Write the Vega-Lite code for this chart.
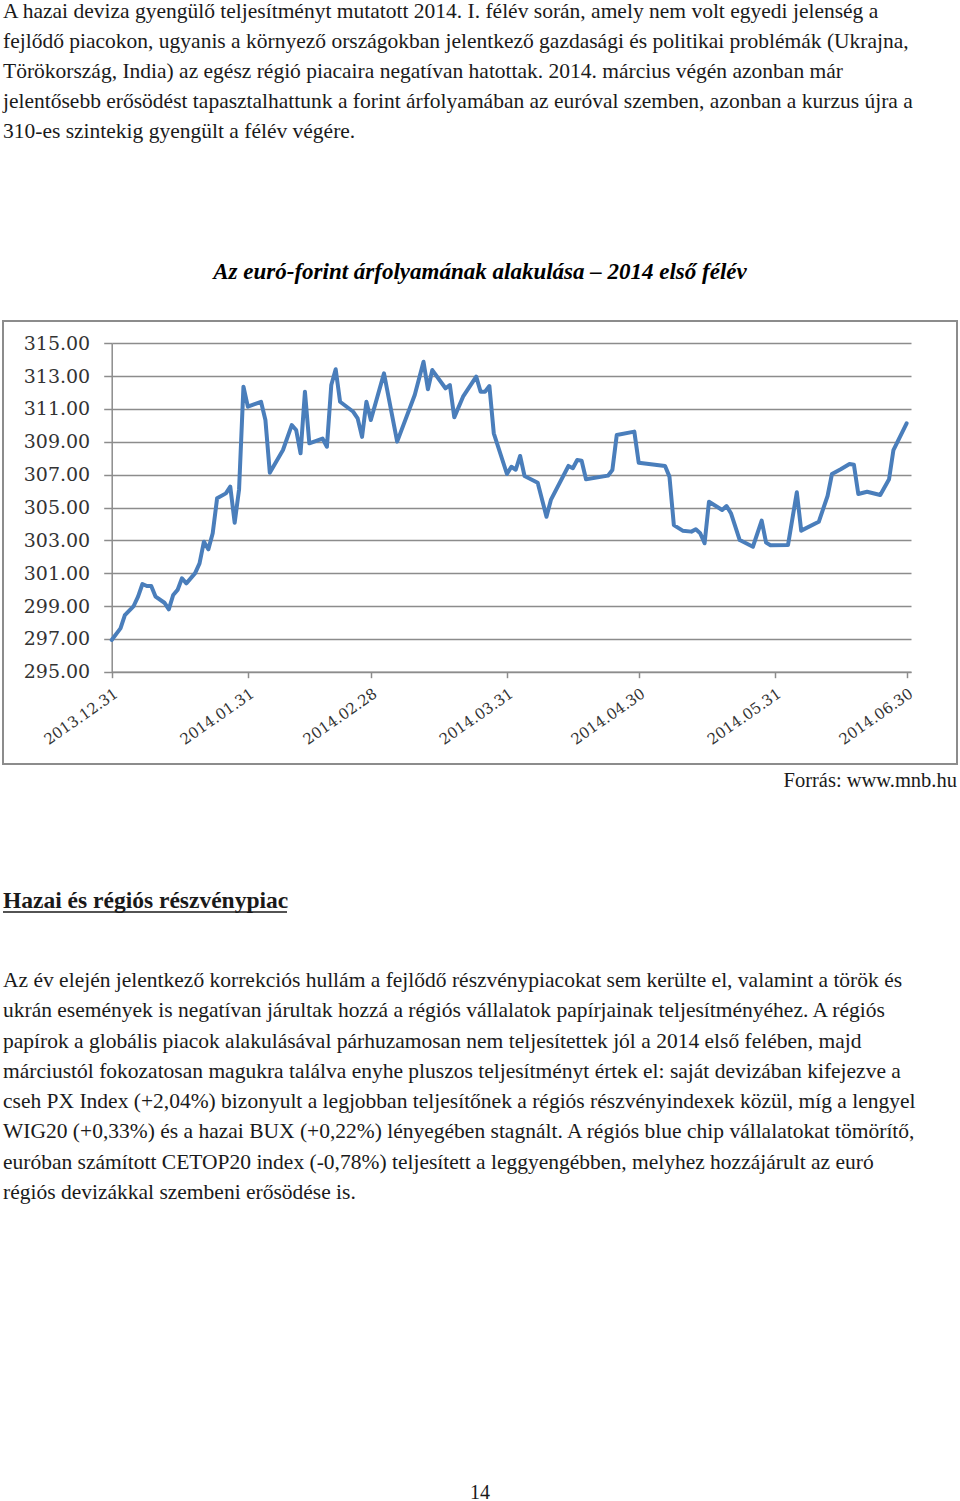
{
  "$schema": "https://vega.github.io/schema/vega-lite/v6.json",
  "padding": 0,
  "background": "white",
  "spacing": 0,
  "bounds": "flush",
  "center": true,
  "config": {"view": {"stroke": null}},
  "vconcat": [
    {
      "width": 960,
      "height": 321,
      "data": {"values": [
        {"line": 1, "text": "A hazai deviza gyengülő teljesítményt mutatott 2014. I. félév során, amely nem volt egyedi jelenség a"},
        {"line": 2, "text": "fejlődő piacokon, ugyanis a környező országokban jelentkező gazdasági és politikai problémák (Ukrajna,"},
        {"line": 3, "text": "Törökország, India) az egész régió piacaira negatívan hatottak. 2014. március végén azonban már"},
        {"line": 4, "text": "jelentősebb erősödést tapasztalhattunk a forint árfolyamában az euróval szemben, azonban a kurzus újra a"},
        {"line": 5, "text": "310-es szintekig gyengült a félév végére."}
      ]},
      "mark": {"type": "text", "align": "left", "baseline": "middle", "font": "Liberation Serif", "fontSize": 21.5, "color": "#1a1a1a"},
      "encoding": {
        "x": {"datum": 0, "type": "quantitative", "scale": {"domain": [0, 1], "range": [3, 957]}, "axis": null},
        "y": {"field": "line", "type": "quantitative", "scale": {"domain": [1, 5], "range": [12, 132]}, "axis": null},
        "text": {"field": "text"}
      }
    },
    {
      "width": 954,
      "height": 443,
      "view": {"stroke": "#8c8c8c", "strokeWidth": 2},
      "title": {"text": "Az euró-forint árfolyamának alakulása – 2014 első félév", "font": "Liberation Serif", "fontSize": 23, "fontWeight": "bold", "fontStyle": "italic", "color": "#000000", "offset": 37, "anchor": "middle"},
      "data": {"values": [
        {"date": "2013-12-31", "rate": 296.93},
        {"date": "2014-01-02", "rate": 297.64},
        {"date": "2014-01-03", "rate": 298.45},
        {"date": "2014-01-05", "rate": 299.0},
        {"date": "2014-01-06", "rate": 299.57},
        {"date": "2014-01-07", "rate": 300.34},
        {"date": "2014-01-08", "rate": 300.22},
        {"date": "2014-01-09", "rate": 300.22},
        {"date": "2014-01-10", "rate": 299.57},
        {"date": "2014-01-12", "rate": 299.2},
        {"date": "2014-01-13", "rate": 298.8},
        {"date": "2014-01-14", "rate": 299.67},
        {"date": "2014-01-15", "rate": 299.98},
        {"date": "2014-01-16", "rate": 300.69},
        {"date": "2014-01-17", "rate": 300.38},
        {"date": "2014-01-19", "rate": 301.0},
        {"date": "2014-01-20", "rate": 301.6},
        {"date": "2014-01-21", "rate": 302.92},
        {"date": "2014-01-22", "rate": 302.45},
        {"date": "2014-01-23", "rate": 303.43},
        {"date": "2014-01-24", "rate": 305.56},
        {"date": "2014-01-26", "rate": 305.86},
        {"date": "2014-01-27", "rate": 306.27},
        {"date": "2014-01-28", "rate": 304.07},
        {"date": "2014-01-29", "rate": 306.1},
        {"date": "2014-01-30", "rate": 312.36},
        {"date": "2014-01-31", "rate": 311.14},
        {"date": "2014-02-03", "rate": 311.44},
        {"date": "2014-02-04", "rate": 310.33},
        {"date": "2014-02-05", "rate": 307.12},
        {"date": "2014-02-08", "rate": 308.5},
        {"date": "2014-02-10", "rate": 310.02},
        {"date": "2014-02-11", "rate": 309.72},
        {"date": "2014-02-12", "rate": 308.3},
        {"date": "2014-02-13", "rate": 312.05},
        {"date": "2014-02-14", "rate": 308.91},
        {"date": "2014-02-17", "rate": 309.2},
        {"date": "2014-02-18", "rate": 308.7},
        {"date": "2014-02-19", "rate": 312.46},
        {"date": "2014-02-20", "rate": 313.42},
        {"date": "2014-02-21", "rate": 311.44},
        {"date": "2014-02-24", "rate": 310.83},
        {"date": "2014-02-25", "rate": 310.43},
        {"date": "2014-02-26", "rate": 309.3},
        {"date": "2014-02-27", "rate": 311.44},
        {"date": "2014-02-28", "rate": 310.33},
        {"date": "2014-03-03", "rate": 313.17},
        {"date": "2014-03-06", "rate": 309.01},
        {"date": "2014-03-10", "rate": 311.85},
        {"date": "2014-03-12", "rate": 313.88},
        {"date": "2014-03-13", "rate": 312.2},
        {"date": "2014-03-14", "rate": 313.37},
        {"date": "2014-03-17", "rate": 312.26},
        {"date": "2014-03-18", "rate": 312.46},
        {"date": "2014-03-19", "rate": 310.49},
        {"date": "2014-03-21", "rate": 311.75},
        {"date": "2014-03-24", "rate": 312.97},
        {"date": "2014-03-25", "rate": 312.05},
        {"date": "2014-03-26", "rate": 312.05},
        {"date": "2014-03-27", "rate": 312.4},
        {"date": "2014-03-28", "rate": 309.52},
        {"date": "2014-03-31", "rate": 307.04},
        {"date": "2014-04-01", "rate": 307.48},
        {"date": "2014-04-02", "rate": 307.3},
        {"date": "2014-04-03", "rate": 308.14},
        {"date": "2014-04-04", "rate": 306.92},
        {"date": "2014-04-07", "rate": 306.51},
        {"date": "2014-04-09", "rate": 304.44},
        {"date": "2014-04-10", "rate": 305.46},
        {"date": "2014-04-14", "rate": 307.53},
        {"date": "2014-04-15", "rate": 307.39},
        {"date": "2014-04-16", "rate": 307.89},
        {"date": "2014-04-17", "rate": 307.85},
        {"date": "2014-04-18", "rate": 306.72},
        {"date": "2014-04-23", "rate": 306.94},
        {"date": "2014-04-24", "rate": 307.28},
        {"date": "2014-04-25", "rate": 309.42},
        {"date": "2014-04-29", "rate": 309.62},
        {"date": "2014-04-30", "rate": 307.73},
        {"date": "2014-05-06", "rate": 307.53},
        {"date": "2014-05-07", "rate": 306.88},
        {"date": "2014-05-08", "rate": 303.93},
        {"date": "2014-05-10", "rate": 303.59},
        {"date": "2014-05-12", "rate": 303.53},
        {"date": "2014-05-13", "rate": 303.67},
        {"date": "2014-05-14", "rate": 303.43},
        {"date": "2014-05-15", "rate": 302.82},
        {"date": "2014-05-16", "rate": 305.35},
        {"date": "2014-05-19", "rate": 304.85},
        {"date": "2014-05-20", "rate": 305.09},
        {"date": "2014-05-21", "rate": 304.65},
        {"date": "2014-05-23", "rate": 303.02},
        {"date": "2014-05-26", "rate": 302.61},
        {"date": "2014-05-28", "rate": 304.2},
        {"date": "2014-05-29", "rate": 302.86},
        {"date": "2014-05-30", "rate": 302.7},
        {"date": "2014-06-03", "rate": 302.72},
        {"date": "2014-06-05", "rate": 305.93},
        {"date": "2014-06-06", "rate": 303.59},
        {"date": "2014-06-10", "rate": 304.13},
        {"date": "2014-06-12", "rate": 305.7},
        {"date": "2014-06-13", "rate": 307.04},
        {"date": "2014-06-15", "rate": 307.33},
        {"date": "2014-06-17", "rate": 307.65},
        {"date": "2014-06-18", "rate": 307.6},
        {"date": "2014-06-19", "rate": 305.82},
        {"date": "2014-06-21", "rate": 305.96},
        {"date": "2014-06-24", "rate": 305.76},
        {"date": "2014-06-26", "rate": 306.72},
        {"date": "2014-06-27", "rate": 308.5},
        {"date": "2014-06-30", "rate": 310.13}
      ]},
      "mark": {"type": "line", "color": "#4a7ebb", "strokeWidth": 4, "strokeJoin": "round", "strokeCap": "round"},
      "encoding": {
        "x": {
          "field": "date", "type": "temporal",
          "scale": {"type": "utc", "nice": false, "domain": [{"year": 2013, "month": 12, "date": 31, "utc": true}, {"year": 2014, "month": 7, "date": 1, "utc": true}], "range": [108.7, 908]},
          "axis": {
            "orient": "bottom", "offset": -92.3, "title": null, "grid": false,
            "values": [
              {"year": 2013, "month": 12, "date": 31, "utc": true},
              {"year": 2014, "month": 1, "date": 31, "utc": true},
              {"year": 2014, "month": 2, "date": 28, "utc": true},
              {"year": 2014, "month": 3, "date": 31, "utc": true},
              {"year": 2014, "month": 4, "date": 30, "utc": true},
              {"year": 2014, "month": 5, "date": 31, "utc": true},
              {"year": 2014, "month": 6, "date": 30, "utc": true}
            ],
            "labelExpr": "utcFormat(datum.value, '%Y.%m.%d')",
            "labelAngle": -35, "labelAlign": "right", "labelBaseline": "top",
            "labelFont": "DejaVu Serif", "labelFontSize": 15, "labelColor": "#333333",
            "labelPadding": 8, "labelFlush": false, "labelOverlap": false, "labelBound": false,
            "domainColor": "#8c8c8c", "domainWidth": 1.5, "tickColor": "#8c8c8c", "tickWidth": 1.5, "tickSize": 6
          }
        },
        "y": {
          "field": "rate", "type": "quantitative",
          "scale": {"domain": [295, 315], "range": [350.7, 22.3], "zero": false, "nice": false},
          "axis": {
            "orient": "left", "offset": -108.7, "title": null,
            "values": [295, 297, 299, 301, 303, 305, 307, 309, 311, 313, 315],
            "format": ".2f",
            "grid": true, "gridColor": "#8c8c8c", "gridWidth": 1.5,
            "labelFont": "DejaVu Serif", "labelFontSize": 19, "labelColor": "#333333", "labelPadding": 14,
            "domainColor": "#8c8c8c", "domainWidth": 1.5, "tickColor": "#8c8c8c", "tickWidth": 1.5, "tickSize": 8
          }
        }
      }
    },
    {
      "width": 960,
      "height": 737,
      "resolve": {"scale": {"y": "independent"}},
      "data": {"values": [
        {"block": "source", "line": 1, "text": "Forrás: www.mnb.hu"},
        {"block": "heading", "line": 1, "text": "Hazai és régiós részvénypiac"},
        {"block": "body", "line": 1, "text": "Az év elején jelentkező korrekciós hullám a fejlődő részvénypiacokat sem kerülte el, valamint a török és"},
        {"block": "body", "line": 2, "text": "ukrán események is negatívan járultak hozzá a régiós vállalatok papírjainak teljesítményéhez. A régiós"},
        {"block": "body", "line": 3, "text": "papírok a globális piacok alakulásával párhuzamosan nem teljesítettek jól a 2014 első felében, majd"},
        {"block": "body", "line": 4, "text": "márciustól fokozatosan magukra találva enyhe pluszos teljesítményt értek el: saját devizában kifejezve a"},
        {"block": "body", "line": 5, "text": "cseh PX Index (+2,04%) bizonyult a legjobban teljesítőnek a régiós részvényindexek közül, míg a lengyel"},
        {"block": "body", "line": 6, "text": "WIG20 (+0,33%) és a hazai BUX (+0,22%) lényegében stagnált. A régiós blue chip vállalatokat tömörítő,"},
        {"block": "body", "line": 7, "text": "euróban számított CETOP20 index (-0,78%) teljesített a leggyengébben, melyhez hozzájárult az euró"},
        {"block": "body", "line": 8, "text": "régiós devizákkal szembeni erősödése is."},
        {"block": "page", "line": 1, "text": "14"}
      ]},
      "layer": [
        {
          "transform": [{"filter": "datum.block === 'source'"}],
          "mark": {"type": "text", "align": "right", "baseline": "middle", "font": "Liberation Serif", "fontSize": 20.5, "color": "#1a1a1a"},
          "encoding": {
            "x": {"datum": 1, "type": "quantitative", "scale": {"domain": [0, 1], "range": [3, 957]}, "axis": null},
            "y": {"field": "line", "type": "quantitative", "scale": {"domain": [0, 2], "range": [7, 27]}, "axis": null},
            "text": {"field": "text"}
          }
        },
        {
          "transform": [{"filter": "datum.block === 'heading'"}],
          "mark": {"type": "text", "align": "left", "baseline": "middle", "font": "Liberation Serif", "fontSize": 23.5, "fontWeight": "bold", "color": "#1a1a1a"},
          "encoding": {
            "x": {"datum": 0, "type": "quantitative", "scale": {"domain": [0, 1], "range": [3, 957]}, "axis": null},
            "y": {"field": "line", "type": "quantitative", "scale": {"domain": [0, 2], "range": [127, 147]}, "axis": null},
            "text": {"field": "text"}
          }
        },
        {
          "transform": [{"filter": "datum.block === 'heading'"}],
          "mark": {"type": "rule", "color": "#1a1a1a", "strokeWidth": 1.5},
          "encoding": {
            "x": {"datum": 0, "type": "quantitative", "scale": {"domain": [0, 1], "range": [3, 957]}, "axis": null},
            "x2": {"datum": 0.2977},
            "y": {"field": "line", "type": "quantitative", "scale": {"domain": [0, 2], "range": [138, 158]}, "axis": null}
          }
        },
        {
          "transform": [{"filter": "datum.block === 'body'"}],
          "mark": {"type": "text", "align": "left", "baseline": "middle", "font": "Liberation Serif", "fontSize": 21.5, "color": "#1a1a1a"},
          "encoding": {
            "x": {"datum": 0, "type": "quantitative", "scale": {"domain": [0, 1], "range": [3, 957]}, "axis": null},
            "y": {"field": "line", "type": "quantitative", "scale": {"domain": [1, 8], "range": [217, 429]}, "axis": null},
            "text": {"field": "text"}
          }
        },
        {
          "transform": [{"filter": "datum.block === 'page'"}],
          "mark": {"type": "text", "align": "center", "baseline": "middle", "font": "Liberation Serif", "fontSize": 20, "color": "#1a1a1a"},
          "encoding": {
            "x": {"datum": 0.5, "type": "quantitative", "scale": {"domain": [0, 1], "range": [3, 957]}, "axis": null},
            "y": {"field": "line", "type": "quantitative", "scale": {"domain": [0, 2], "range": [719, 739]}, "axis": null},
            "text": {"field": "text"}
          }
        }
      ]
    }
  ]
}
